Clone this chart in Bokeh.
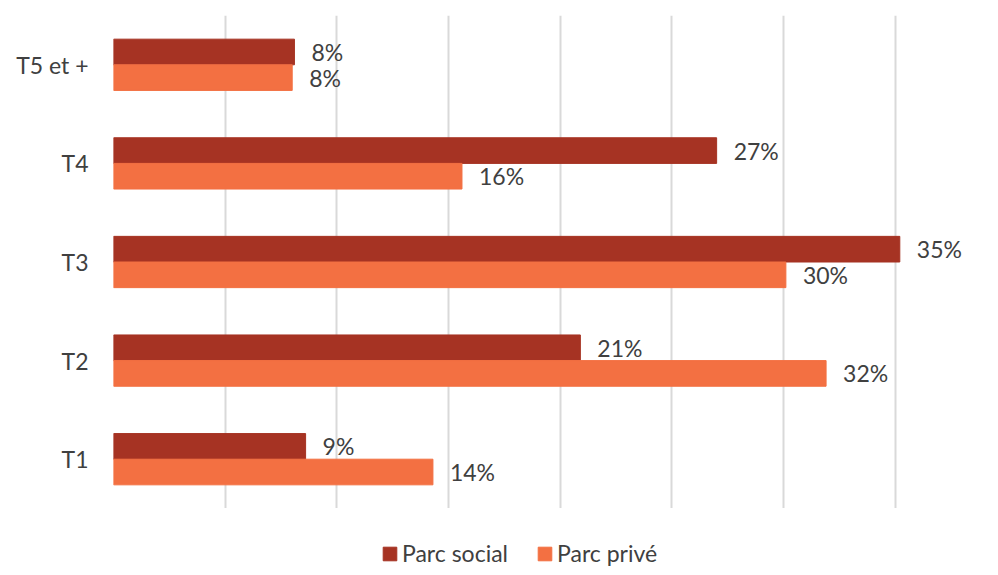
from bokeh.plotting import figure
from bokeh.layouts import column
from bokeh.models import ColumnDataSource, Range1d, FactorRange, FixedTicker, Legend, LegendItem
from bokeh.transform import dodge
from bokeh.core.properties import value
from bokeh.embed import file_html
from bokeh.resources import INLINE

categories = ["T1", "T2", "T3", "T4", "T5 et +"]
parc_social = [8.6, 20.9, 35.2, 27.0, 8.1]
parc_prive = [14.3, 31.9, 30.1, 15.6, 8.0]
series_names = ["Parc social", "Parc privé"]
grid_ticks = [0, 5, 10, 15, 20, 25, 30, 35]

FONT = "Lato"
FS = "23px"
TXT = "#404040"
C_SOCIAL = "#A63323"
C_PRIVE = "#F37042"

src = ColumnDataSource(dict(
    cat=categories,
    social=parc_social,
    prive=parc_prive,
    social_lbl=[f"{round(v)}%" for v in parc_social],
    prive_lbl=[f"{round(v)}%" for v in parc_prive],
))

p = figure(width=990, height=508, output_backend="svg", toolbar_location=None,
           y_range=FactorRange(factors=categories, range_padding=0),
           x_range=Range1d(0, 39.26),
           frame_width=877, frame_height=493,
           min_border_left=113, min_border_right=0, min_border_top=15, min_border_bottom=0)
p.outline_line_color = None
p.background_fill_color = "white"

r1 = p.hbar(y=dodge("cat", 0.13, range=p.y_range), right="social", left=0, height=0.26,
            source=src, fill_color=C_SOCIAL, line_color=C_SOCIAL)
r2 = p.hbar(y=dodge("cat", -0.13, range=p.y_range), right="prive", left=0, height=0.26,
            source=src, fill_color=C_PRIVE, line_color=C_PRIVE)

p.text(x="social", y=dodge("cat", 0.13, range=p.y_range), text="social_lbl", source=src,
       x_offset=17, text_baseline="middle", text_align="left",
       text_font=value(FONT), text_font_size=FS, text_color=TXT)
p.text(x="prive", y=dodge("cat", -0.13, range=p.y_range), text="prive_lbl", source=src,
       x_offset=17, text_baseline="middle", text_align="left",
       text_font=value(FONT), text_font_size=FS, text_color=TXT)

p.xaxis.visible = False
p.xgrid.ticker = FixedTicker(ticks=grid_ticks)
p.xgrid.grid_line_color = "#D9D9D9"
p.xgrid.grid_line_width = 2
p.ygrid.grid_line_color = None

ya = p.yaxis[0]
ya.axis_line_color = None
ya.major_tick_line_color = None
ya.minor_tick_line_color = None
ya.major_tick_out = 0
ya.major_tick_in = 0
ya.major_label_standoff = 25
ya.major_label_text_font = FONT
ya.major_label_text_font_size = FS
ya.major_label_text_color = TXT

# legend strip below the chart (its renderers lie outside its visible ranges)
pl = figure(width=990, height=59, output_backend="svg", toolbar_location=None,
            x_range=Range1d(0, 1), y_range=Range1d(0, 1),
            x_axis_type=None, y_axis_type=None,
            min_border_left=0, min_border_right=0, min_border_top=0, min_border_bottom=0)
pl.outline_line_color = None
pl.xgrid.grid_line_color = None
pl.ygrid.grid_line_color = None
lr1 = pl.hbar(y="social", right="social", left="social", height=0.26, source=src,
              fill_color=C_SOCIAL, line_color=C_SOCIAL)
lr2 = pl.hbar(y="prive", right="prive", left="prive", height=0.26, source=src,
              fill_color=C_PRIVE, line_color=C_PRIVE)

legend = Legend(items=[LegendItem(label=series_names[0], renderers=[lr1]),
                       LegendItem(label=series_names[1], renderers=[lr2])],
                orientation="horizontal", location=(268, 0))
legend.label_text_font = FONT
legend.label_text_font_size = FS
legend.label_text_color = TXT
legend.glyph_width = 17
legend.glyph_height = 17
legend.label_standoff = 4
legend.spacing = 28
legend.border_line_color = None
legend.background_fill_alpha = 0
legend.padding = 0
legend.margin = 0
pl.add_layout(legend, "center")

layout = column(p, pl, spacing=0)
open("out.html", "w").write(file_html(layout, INLINE))
